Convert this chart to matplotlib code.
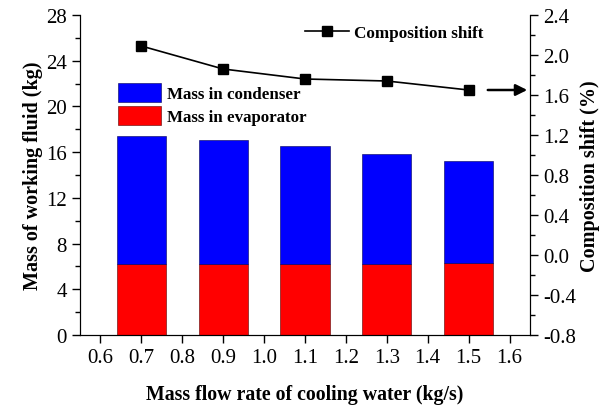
import matplotlib
matplotlib.use("Agg")
import matplotlib.pyplot as plt
from matplotlib.ticker import MultipleLocator, FormatStrFormatter

# data
flow = [0.7, 0.9, 1.1, 1.3, 1.5]
mass_evap = [6.2, 6.2, 6.2, 6.25, 6.3]
mass_cond = [11.24, 10.83, 10.3, 9.59, 8.9]
comp_shift = [2.09, 1.86, 1.76, 1.74, 1.65]

plt.rcParams["font.family"] = "Liberation Serif"
plt.rcParams["font.size"] = 15
plt.rcParams["axes.unicode_minus"] = False

fig = plt.figure(figsize=(6.01, 4.06), dpi=100)
ax = fig.add_axes([80 / 601, 1 - 336 / 406, 450 / 601, 320 / 406])

ax.bar(flow, mass_evap, width=0.12, color="#ff0000", edgecolor="#550000", lw=0.4,
       label="Mass in evaporator")
ax.bar(flow, mass_cond, width=0.12, bottom=mass_evap, color="#0000ff",
       edgecolor="#000055", lw=0.4, label="Mass in condenser")

ax.set_xlim(0.55, 1.65)
ax.set_ylim(0, 28)
ax.xaxis.set_major_locator(MultipleLocator(0.1))
ax.yaxis.set_major_locator(MultipleLocator(4))
ax.yaxis.set_minor_locator(MultipleLocator(2))
ax.xaxis.set_major_formatter(FormatStrFormatter("%.1f"))
ax.spines["top"].set_visible(False)
ax.tick_params(which="both", direction="out", top=False, width=1)
ax.tick_params(which="major", length=6)
ax.tick_params(which="minor", length=3.5)
ax.set_xlabel("Mass flow rate of cooling water (kg/s)", fontweight="bold",
              fontsize=14.3, labelpad=12)
ax.set_ylabel("Mass of working fluid (kg)", fontweight="bold", fontsize=14.5,
              labelpad=2)

h, l = ax.get_legend_handles_labels()
ax.legend(h[::-1], l[::-1], loc="upper left", bbox_to_anchor=(0.07, 0.81),
          frameon=False, prop={"weight": "bold", "size": 12.2},
          handlelength=2.5, handleheight=1.4, handletextpad=0.4,
          labelspacing=0.2, borderaxespad=0)

ax2 = ax.twinx()
ax2.plot(flow, comp_shift, color="black", marker="s", markersize=7, lw=1.2,
         label="Composition shift")
ax2.set_ylim(-0.8, 2.4)
ax2.yaxis.set_major_locator(MultipleLocator(0.4))
ax2.yaxis.set_minor_locator(MultipleLocator(0.2))
ax2.yaxis.set_major_formatter(FormatStrFormatter("%.1f"))
ax2.spines["top"].set_visible(False)
ax2.tick_params(which="both", direction="out", width=1)
ax2.tick_params(which="major", length=6)
ax2.tick_params(which="minor", length=3.5)
ax2.set_ylabel("Composition shift (%)", fontweight="bold", fontsize=14.5,
               labelpad=3)
ax2.legend(loc="upper right", bbox_to_anchor=(0.92, 1.0), frameon=False,
           prop={"weight": "bold", "size": 12.3}, handlelength=2.6,
           handletextpad=0.3, borderaxespad=0.2)

ax2.annotate("", xy=(1.65, comp_shift[-1]), xytext=(1.54, comp_shift[-1]),
             arrowprops=dict(arrowstyle="-|>", color="black", lw=1.8,
                             mutation_scale=17))

fig.savefig("out.png", dpi=100)
